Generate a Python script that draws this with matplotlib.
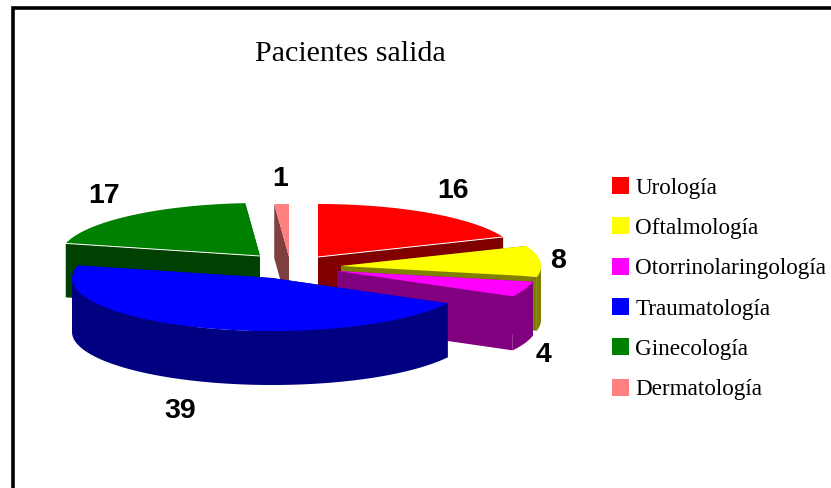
#!/usr/bin/env python3
"""Exploded fake-3D pie: Pacientes salida."""
import numpy as np
import matplotlib
matplotlib.use("Agg")
import matplotlib.pyplot as plt
from matplotlib.patches import Patch

categories = ["Urología", "Oftalmología", "Otorrinolaringología",
              "Traumatología", "Ginecología", "Dermatología"]
values = [16, 8, 4, 39, 17, 1]

top_colors = ["#ff0000", "#ffff00", "#ff00ff", "#0000ff", "#008000", "#ff8080"]
wall_colors = ["#800000", "#808000", "#800080", "#000080", "#004000", "#804040"]

# exploded apex of each slice in pixels, and where its number sits
apex = [(318, 257), (341, 266), (337, 271), (272, 278), (260, 256), (289, 257)]
label_pos = [(453, 191), (558, 261), (544, 355), (180, 411), (104, 196), (280, 179)]
draw_order = [4, 5, 0, 1, 2, 3]

RX, RY, DEPTH = 200, 53, 54

fig = plt.figure(figsize=(8.31, 4.88), dpi=100)
ax = fig.add_axes([0, 0, 1, 1])
ax.set_xlim(0, 831)
ax.set_ylim(488, 0)
ax.set_axis_off()

# frame is cut off at the right and the bottom
ax.plot([12.5, 12.5, 831], [488, 8, 8], color="black", lw=2.6, solid_joinstyle="miter")

angles = np.cumsum([0] + values) / sum(values) * 2 * np.pi

for i in draw_order:
    cx, cy = apex[i]
    z = 2 + draw_order.index(i)
    t = np.linspace(angles[i], angles[i + 1], 80)
    xs = np.r_[cx, cx + RX * np.sin(t)]
    ys = np.r_[cy, cy - RY * np.cos(t)]

    # rim only on the front half of the ellipse
    front = np.linspace(max(angles[i], np.pi / 2), min(angles[i + 1], 3 * np.pi / 2), 80)
    if front[0] < front[-1]:
        fx = cx + RX * np.sin(front)
        fy = cy - RY * np.cos(front)
        ax.fill(np.r_[fx, fx[::-1]], np.r_[fy, fy[::-1] + DEPTH],
                color=wall_colors[i], lw=0, zorder=z)
    # the two cut faces
    for e in (1, -1):
        ax.fill([xs[0], xs[e], xs[e], xs[0]],
                [ys[0], ys[e], ys[e] + DEPTH, ys[0] + DEPTH],
                color=wall_colors[i], lw=0, zorder=z)
    ax.fill(xs, ys, color=top_colors[i], lw=0, zorder=z)
    # thin light line along the front cut of the red and green slices
    if i == 0:
        ax.plot(xs[[0, -1]], ys[[0, -1]], color="white", lw=0.7, zorder=z)
    if i == 4:
        ax.plot(xs[[0, 1]], ys[[0, 1]], color="white", lw=0.7, zorder=z)

for val, (x, y) in zip(values, label_pos):
    ax.text(x, y, str(val), ha="center", va="center", fontsize=20.5,
            fontweight="bold", family="Liberation Sans", zorder=20)

ax.text(350, 54, "Pacientes salida", ha="center", va="center",
        fontsize=21.6, family="Liberation Serif")

handles = [Patch(facecolor=c, edgecolor="none", label=n) for c, n in zip(top_colors, categories)]
ax.legend(handles=handles, loc="upper left", bbox_to_anchor=(612 / 831, 1 - 177 / 488),
          frameon=False, prop={"family": "Liberation Serif", "size": 16.7},
          handlelength=0.75, handleheight=0.75, handletextpad=0.25,
          labelspacing=0.81, borderpad=0, borderaxespad=0)

fig.savefig("out.png", dpi=100)
